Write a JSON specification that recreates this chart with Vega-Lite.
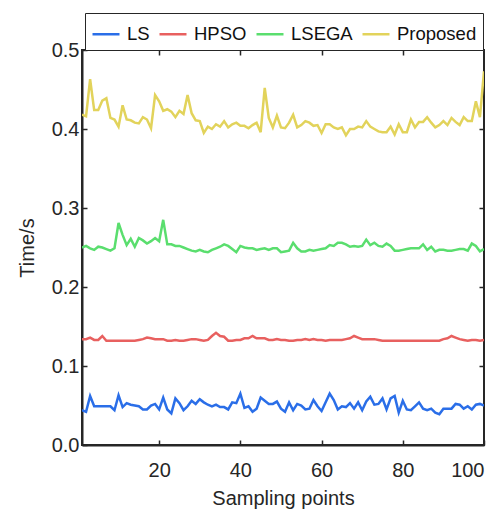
{
  "$schema": "https://vega.github.io/schema/vega-lite/v6.json",
  "width": 402,
  "height": 395,
  "autosize": "none",
  "padding": {"left": 82, "top": 50, "right": 16, "bottom": 67},
  "background": "white",
  "config": {
    "font": "Liberation Sans",
    "view": {"stroke": "#262626", "strokeWidth": 2},
    "axis": {
      "grid": false,
      "domainColor": "#262626",
      "domainWidth": 2,
      "tickColor": "#262626",
      "tickWidth": 1.5,
      "tickSize": -5,
      "labelFontSize": 20,
      "labelColor": "#262626",
      "titleFontSize": 20,
      "titleFontWeight": "normal",
      "titleColor": "#262626"
    }
  },
  "data": {"values": [
    {"x":1,"LS":0.044,"HPSO":0.134,"LSEGA":0.250,"Proposed":0.418},
    {"x":2,"LS":0.042,"HPSO":0.134,"LSEGA":0.252,"Proposed":0.416},
    {"x":3,"LS":0.062,"HPSO":0.136,"LSEGA":0.249,"Proposed":0.463},
    {"x":4,"LS":0.049,"HPSO":0.133,"LSEGA":0.247,"Proposed":0.424},
    {"x":5,"LS":0.049,"HPSO":0.133,"LSEGA":0.251,"Proposed":0.424},
    {"x":6,"LS":0.049,"HPSO":0.138,"LSEGA":0.250,"Proposed":0.436},
    {"x":7,"LS":0.049,"HPSO":0.132,"LSEGA":0.248,"Proposed":0.439},
    {"x":8,"LS":0.049,"HPSO":0.132,"LSEGA":0.246,"Proposed":0.414},
    {"x":9,"LS":0.044,"HPSO":0.132,"LSEGA":0.249,"Proposed":0.412},
    {"x":10,"LS":0.063,"HPSO":0.132,"LSEGA":0.281,"Proposed":0.403},
    {"x":11,"LS":0.048,"HPSO":0.132,"LSEGA":0.266,"Proposed":0.430},
    {"x":12,"LS":0.053,"HPSO":0.132,"LSEGA":0.253,"Proposed":0.412},
    {"x":13,"LS":0.051,"HPSO":0.132,"LSEGA":0.261,"Proposed":0.411},
    {"x":14,"LS":0.050,"HPSO":0.132,"LSEGA":0.251,"Proposed":0.408},
    {"x":15,"LS":0.049,"HPSO":0.133,"LSEGA":0.262,"Proposed":0.407},
    {"x":16,"LS":0.045,"HPSO":0.134,"LSEGA":0.259,"Proposed":0.415},
    {"x":17,"LS":0.045,"HPSO":0.136,"LSEGA":0.255,"Proposed":0.412},
    {"x":18,"LS":0.050,"HPSO":0.135,"LSEGA":0.258,"Proposed":0.401},
    {"x":19,"LS":0.052,"HPSO":0.134,"LSEGA":0.262,"Proposed":0.443},
    {"x":20,"LS":0.045,"HPSO":0.134,"LSEGA":0.258,"Proposed":0.435},
    {"x":21,"LS":0.060,"HPSO":0.134,"LSEGA":0.285,"Proposed":0.423},
    {"x":22,"LS":0.045,"HPSO":0.132,"LSEGA":0.254,"Proposed":0.425},
    {"x":23,"LS":0.040,"HPSO":0.132,"LSEGA":0.254,"Proposed":0.422},
    {"x":24,"LS":0.059,"HPSO":0.133,"LSEGA":0.252,"Proposed":0.415},
    {"x":25,"LS":0.053,"HPSO":0.132,"LSEGA":0.252,"Proposed":0.423},
    {"x":26,"LS":0.044,"HPSO":0.132,"LSEGA":0.250,"Proposed":0.419},
    {"x":27,"LS":0.049,"HPSO":0.133,"LSEGA":0.248,"Proposed":0.443},
    {"x":28,"LS":0.056,"HPSO":0.134,"LSEGA":0.246,"Proposed":0.420},
    {"x":29,"LS":0.052,"HPSO":0.134,"LSEGA":0.245,"Proposed":0.411},
    {"x":30,"LS":0.058,"HPSO":0.133,"LSEGA":0.247,"Proposed":0.410},
    {"x":31,"LS":0.054,"HPSO":0.132,"LSEGA":0.245,"Proposed":0.395},
    {"x":32,"LS":0.051,"HPSO":0.133,"LSEGA":0.244,"Proposed":0.403},
    {"x":33,"LS":0.049,"HPSO":0.138,"LSEGA":0.247,"Proposed":0.400},
    {"x":34,"LS":0.051,"HPSO":0.142,"LSEGA":0.249,"Proposed":0.406},
    {"x":35,"LS":0.048,"HPSO":0.138,"LSEGA":0.251,"Proposed":0.403},
    {"x":36,"LS":0.048,"HPSO":0.137,"LSEGA":0.254,"Proposed":0.410},
    {"x":37,"LS":0.045,"HPSO":0.132,"LSEGA":0.252,"Proposed":0.402},
    {"x":38,"LS":0.054,"HPSO":0.132,"LSEGA":0.248,"Proposed":0.406},
    {"x":39,"LS":0.053,"HPSO":0.133,"LSEGA":0.244,"Proposed":0.408},
    {"x":40,"LS":0.065,"HPSO":0.133,"LSEGA":0.252,"Proposed":0.404},
    {"x":41,"LS":0.047,"HPSO":0.135,"LSEGA":0.250,"Proposed":0.404},
    {"x":42,"LS":0.049,"HPSO":0.135,"LSEGA":0.249,"Proposed":0.401},
    {"x":43,"LS":0.042,"HPSO":0.138,"LSEGA":0.249,"Proposed":0.405},
    {"x":44,"LS":0.046,"HPSO":0.135,"LSEGA":0.247,"Proposed":0.408},
    {"x":45,"LS":0.060,"HPSO":0.135,"LSEGA":0.248,"Proposed":0.396},
    {"x":46,"LS":0.056,"HPSO":0.135,"LSEGA":0.249,"Proposed":0.452},
    {"x":47,"LS":0.052,"HPSO":0.133,"LSEGA":0.247,"Proposed":0.414},
    {"x":48,"LS":0.052,"HPSO":0.133,"LSEGA":0.249,"Proposed":0.402},
    {"x":49,"LS":0.055,"HPSO":0.134,"LSEGA":0.249,"Proposed":0.417},
    {"x":50,"LS":0.046,"HPSO":0.133,"LSEGA":0.244,"Proposed":0.402},
    {"x":51,"LS":0.042,"HPSO":0.133,"LSEGA":0.245,"Proposed":0.401},
    {"x":52,"LS":0.054,"HPSO":0.132,"LSEGA":0.246,"Proposed":0.408},
    {"x":53,"LS":0.044,"HPSO":0.132,"LSEGA":0.256,"Proposed":0.418},
    {"x":54,"LS":0.052,"HPSO":0.133,"LSEGA":0.249,"Proposed":0.402},
    {"x":55,"LS":0.050,"HPSO":0.133,"LSEGA":0.245,"Proposed":0.405},
    {"x":56,"LS":0.045,"HPSO":0.134,"LSEGA":0.245,"Proposed":0.410},
    {"x":57,"LS":0.046,"HPSO":0.133,"LSEGA":0.247,"Proposed":0.408},
    {"x":58,"LS":0.057,"HPSO":0.134,"LSEGA":0.246,"Proposed":0.404},
    {"x":59,"LS":0.049,"HPSO":0.133,"LSEGA":0.247,"Proposed":0.405},
    {"x":60,"LS":0.043,"HPSO":0.133,"LSEGA":0.248,"Proposed":0.395},
    {"x":61,"LS":0.054,"HPSO":0.132,"LSEGA":0.249,"Proposed":0.406},
    {"x":62,"LS":0.065,"HPSO":0.133,"LSEGA":0.253,"Proposed":0.406},
    {"x":63,"LS":0.057,"HPSO":0.133,"LSEGA":0.252,"Proposed":0.402},
    {"x":64,"LS":0.045,"HPSO":0.133,"LSEGA":0.256,"Proposed":0.400},
    {"x":65,"LS":0.049,"HPSO":0.133,"LSEGA":0.256,"Proposed":0.402},
    {"x":66,"LS":0.048,"HPSO":0.134,"LSEGA":0.254,"Proposed":0.392},
    {"x":67,"LS":0.053,"HPSO":0.135,"LSEGA":0.251,"Proposed":0.400},
    {"x":68,"LS":0.046,"HPSO":0.138,"LSEGA":0.252,"Proposed":0.400},
    {"x":69,"LS":0.054,"HPSO":0.136,"LSEGA":0.251,"Proposed":0.403},
    {"x":70,"LS":0.044,"HPSO":0.134,"LSEGA":0.252,"Proposed":0.402},
    {"x":71,"LS":0.055,"HPSO":0.134,"LSEGA":0.260,"Proposed":0.410},
    {"x":72,"LS":0.061,"HPSO":0.134,"LSEGA":0.253,"Proposed":0.403},
    {"x":73,"LS":0.051,"HPSO":0.134,"LSEGA":0.256,"Proposed":0.400},
    {"x":74,"LS":0.052,"HPSO":0.133,"LSEGA":0.252,"Proposed":0.397},
    {"x":75,"LS":0.059,"HPSO":0.132,"LSEGA":0.251,"Proposed":0.396},
    {"x":76,"LS":0.045,"HPSO":0.132,"LSEGA":0.255,"Proposed":0.396},
    {"x":77,"LS":0.059,"HPSO":0.132,"LSEGA":0.252,"Proposed":0.403},
    {"x":78,"LS":0.062,"HPSO":0.132,"LSEGA":0.246,"Proposed":0.393},
    {"x":79,"LS":0.041,"HPSO":0.132,"LSEGA":0.246,"Proposed":0.406},
    {"x":80,"LS":0.056,"HPSO":0.132,"LSEGA":0.247,"Proposed":0.396},
    {"x":81,"LS":0.045,"HPSO":0.132,"LSEGA":0.248,"Proposed":0.396},
    {"x":82,"LS":0.044,"HPSO":0.132,"LSEGA":0.249,"Proposed":0.412},
    {"x":83,"LS":0.049,"HPSO":0.132,"LSEGA":0.249,"Proposed":0.402},
    {"x":84,"LS":0.054,"HPSO":0.132,"LSEGA":0.249,"Proposed":0.409},
    {"x":85,"LS":0.046,"HPSO":0.132,"LSEGA":0.254,"Proposed":0.409},
    {"x":86,"LS":0.044,"HPSO":0.132,"LSEGA":0.247,"Proposed":0.415},
    {"x":87,"LS":0.046,"HPSO":0.132,"LSEGA":0.251,"Proposed":0.408},
    {"x":88,"LS":0.041,"HPSO":0.132,"LSEGA":0.245,"Proposed":0.402},
    {"x":89,"LS":0.039,"HPSO":0.132,"LSEGA":0.247,"Proposed":0.405},
    {"x":90,"LS":0.046,"HPSO":0.134,"LSEGA":0.247,"Proposed":0.410},
    {"x":91,"LS":0.046,"HPSO":0.135,"LSEGA":0.246,"Proposed":0.405},
    {"x":92,"LS":0.046,"HPSO":0.138,"LSEGA":0.246,"Proposed":0.414},
    {"x":93,"LS":0.052,"HPSO":0.136,"LSEGA":0.247,"Proposed":0.409},
    {"x":94,"LS":0.051,"HPSO":0.134,"LSEGA":0.248,"Proposed":0.405},
    {"x":95,"LS":0.046,"HPSO":0.133,"LSEGA":0.248,"Proposed":0.415},
    {"x":96,"LS":0.049,"HPSO":0.132,"LSEGA":0.246,"Proposed":0.410},
    {"x":97,"LS":0.045,"HPSO":0.133,"LSEGA":0.255,"Proposed":0.410},
    {"x":98,"LS":0.051,"HPSO":0.133,"LSEGA":0.252,"Proposed":0.435},
    {"x":99,"LS":0.052,"HPSO":0.132,"LSEGA":0.245,"Proposed":0.415},
    {"x":100,"LS":0.050,"HPSO":0.133,"LSEGA":0.248,"Proposed":0.473}
  ]},
  "transform": [{"fold": ["LS", "HPSO", "LSEGA", "Proposed"], "as": ["method", "value"]}],
  "layer": [
    {
      "mark": {"type": "line", "strokeWidth": 2.5, "clip": true},
      "encoding": {
        "x": {
          "field": "x", "type": "quantitative",
          "scale": {"domain": [1, 100], "nice": false, "zero": false},
          "axis": {"values": [20, 40, 60, 80, 100], "title": "Sampling points", "labelPadding": 20, "titlePadding": 8}
        },
        "y": {
          "field": "value", "type": "quantitative",
          "scale": {"domain": [0, 0.5], "nice": false},
          "axis": {"values": [0, 0.1, 0.2, 0.3, 0.4, 0.5], "title": "Time/s", "labelPadding": 8, "titlePadding": 14}
        },
        "color": {
          "field": "method", "type": "nominal",
          "scale": {"domain": ["LS", "HPSO", "LSEGA", "Proposed"], "range": ["#2a6ee8", "#e8605f", "#5ade6e", "#e2d35b"]},
          "legend": {
            "title": null,
            "orient": "none",
            "legendX": 3,
            "legendY": -37,
            "direction": "horizontal",
            "symbolType": "stroke",
            "symbolSize": 729,
            "symbolStrokeWidth": 2.5,
            "labelFontSize": 18.5,
            "labelOffset": 6,
            "labelColor": "#111111",
            "columnPadding": 4,
            "padding": 6,
            "strokeColor": "#262626",
            "fillColor": "white"
          }
        }
      }
    },
    {
      "mark": {"type": "point", "opacity": 0},
      "encoding": {
        "x": {"field": "x", "type": "quantitative", "axis": {"orient": "top", "values": [20, 40, 60, 80], "labels": false, "title": null, "domain": false}},
        "y": {"field": "value", "type": "quantitative", "axis": {"orient": "right", "values": [0.1, 0.2, 0.3, 0.4], "labels": false, "title": null, "domain": false}}
      }
    }
  ],
  "resolve": {"axis": {"x": "independent", "y": "independent"}}
}
